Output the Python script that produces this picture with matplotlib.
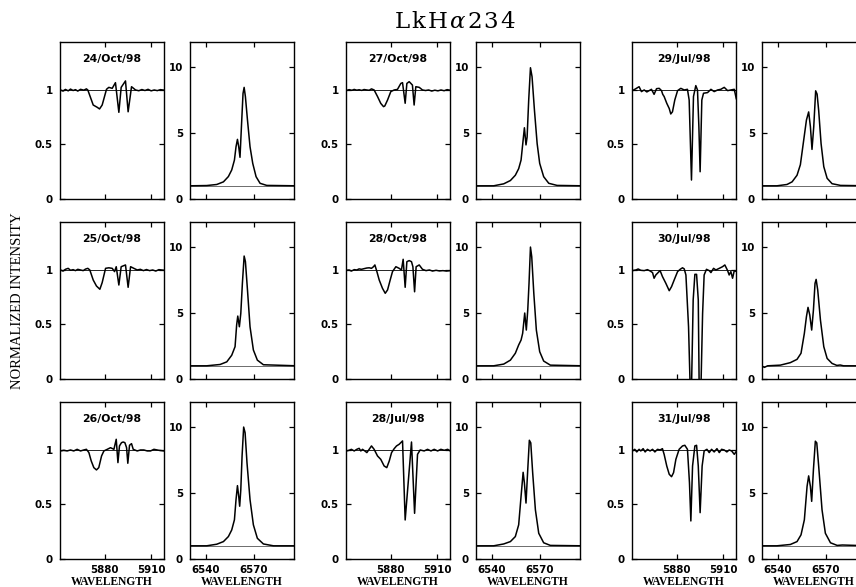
from __future__ import annotations

import matplotlib

matplotlib.use("Agg")
import matplotlib.pyplot as plt


FIG_W, FIG_H = 856, 587

# Na I D region (wavelength, normalized intensity) per night
NAD_24OCT_WAVE = [5851.3, 5853.0, 5854.5, 5856.3, 5857.8, 5859.5, 5861.0, 5862.5, 5864.3, 5866.4,
                  5868.1, 5869.0, 5872.5, 5875.1, 5876.6, 5878.3, 5881.1, 5882.6, 5884.8, 5886.9,
                  5889.1, 5890.6, 5893.4, 5895.1, 5897.3, 5899.9, 5902.0, 5904.0, 5906.0, 5908.0,
                  5910.0, 5912.0, 5914.0, 5916.0, 5918.5]
NAD_24OCT_FLUX = [1.0, 0.99, 1.005, 0.992, 1.008, 0.995, 1.003, 0.99, 1.006, 0.998,
                  1.01, 1.0, 0.862, 0.841, 0.826, 0.862, 1.006, 1.024, 1.015, 1.067,
                  0.795, 1.024, 1.083, 0.80, 1.03, 1.0, 0.993, 1.004, 0.995, 1.006,
                  0.992, 1.0, 0.994, 1.003, 0.998]

NAD_25OCT_WAVE = [5851.3, 5853.0, 5854.5, 5856.3, 5857.8, 5859.5, 5861.0, 5862.5, 5864.3, 5866.0,
                  5867.5, 5869.0, 5870.3, 5872.5, 5874.6, 5876.8, 5878.3, 5880.5, 5882.6, 5884.8,
                  5886.3, 5887.4, 5889.1, 5890.6, 5893.4, 5895.1, 5896.7, 5898.8, 5901.0, 5903.0,
                  5905.0, 5907.0, 5909.0, 5911.0, 5913.0, 5915.0, 5918.5]
NAD_25OCT_FLUX = [1.0, 0.99, 1.006, 1.015, 0.997, 1.003, 0.994, 1.006, 1.0, 0.994,
                  1.008, 1.015, 1.0, 0.908, 0.853, 0.823, 0.884, 1.015, 1.02, 1.015,
                  0.985, 1.03, 0.862, 1.03, 1.046, 0.841, 1.03, 1.015, 1.0, 1.006,
                  0.994, 1.004, 0.994, 1.0, 0.99, 1.003, 0.997]

NAD_26OCT_WAVE = [5851.3, 5853.5, 5855.6, 5857.8, 5859.9, 5862.1, 5864.3, 5866.4, 5868.1, 5869.7,
                  5871.2, 5872.9, 5874.6, 5876.1, 5877.9, 5879.4, 5881.6, 5883.7, 5885.9, 5887.4,
                  5888.5, 5889.5, 5890.8, 5891.9, 5893.0, 5894.1, 5894.9, 5896.0, 5897.3, 5898.4,
                  5901.0, 5903.1, 5905.3, 5907.5, 5909.6, 5911.8, 5915.0, 5918.3]
NAD_26OCT_FLUX = [0.991, 0.997, 0.991, 1.0, 0.991, 1.006, 0.991, 1.0, 1.006, 0.976,
                  0.90, 0.838, 0.817, 0.838, 0.945, 0.991, 1.006, 1.021, 1.006, 1.098,
                  0.884, 1.037, 1.067, 1.073, 1.067, 1.021, 0.878, 1.043, 1.058, 1.006,
                  0.991, 1.0, 1.0, 0.991, 0.991, 1.006, 0.997, 0.991]

NAD_27OCT_WAVE = [5851.3, 5853.0, 5854.8, 5856.3, 5858.0, 5859.5, 5861.2, 5862.7, 5864.5, 5866.0,
                  5867.5, 5869.2, 5871.4, 5873.5, 5875.3, 5876.1, 5877.9, 5880.0, 5882.2, 5884.3,
                  5886.5, 5887.6, 5889.3, 5890.4, 5891.9, 5893.0, 5894.0, 5895.1, 5896.2, 5898.4,
                  5900.5, 5902.5, 5904.5, 5906.5, 5908.5, 5910.5, 5912.5, 5914.5, 5916.5, 5918.5]
NAD_27OCT_FLUX = [0.995, 1.003, 0.997, 1.005, 0.998, 1.002, 0.996, 1.004, 1.0, 0.997,
                  1.01, 1.0, 0.94, 0.877, 0.847, 0.853, 0.908, 0.985, 1.0, 1.005,
                  1.06, 1.067, 0.878, 1.06, 1.076, 1.06, 1.045, 0.862, 1.03, 1.024,
                  1.0, 0.995, 1.0, 0.99, 0.998, 0.992, 1.0, 0.993, 1.003, 0.997]

NAD_28OCT_WAVE = [5851.3, 5853.0, 5854.5, 5856.3, 5858.0, 5859.5, 5861.0, 5862.7, 5864.5, 5866.0,
                  5867.5, 5868.8, 5869.7, 5871.0, 5872.5, 5874.6, 5876.4, 5877.9, 5879.6, 5881.1,
                  5883.3, 5885.4, 5886.9, 5888.0, 5889.3, 5890.4, 5891.9, 5893.4, 5894.3, 5895.4,
                  5896.4, 5898.4, 5900.5, 5902.8, 5905.0, 5907.0, 5909.3, 5911.5, 5913.7, 5916.0,
                  5918.5]
NAD_28OCT_FLUX = [0.997, 1.0, 0.99, 1.003, 1.0, 1.01, 1.006, 1.012, 1.018, 1.02,
                  1.015, 1.03, 1.046, 0.985, 0.908, 0.832, 0.786, 0.817, 0.908, 0.985,
                  1.03, 1.015, 1.0, 1.098, 0.841, 1.076, 1.086, 1.076, 1.03, 0.80,
                  1.03, 1.046, 1.006, 0.994, 1.0, 0.99, 0.997, 0.991, 0.994, 0.99,
                  0.994]

NAD_28JUL_WAVE = [5851.3, 5853.0, 5854.5, 5856.3, 5858.0, 5859.5, 5860.6, 5861.7, 5863.2, 5864.5,
                  5866.0, 5867.5, 5869.2, 5871.4, 5873.5, 5875.7, 5877.4, 5879.0, 5880.5, 5882.2,
                  5883.7, 5885.4, 5887.6, 5889.3, 5893.4, 5895.4, 5897.3, 5899.0, 5901.6, 5903.8,
                  5906.0, 5908.1, 5910.3, 5912.4, 5914.6, 5916.8, 5918.5]
NAD_28JUL_FLUX = [0.991, 0.997, 1.006, 0.991, 1.006, 1.015, 0.991, 1.006, 0.991, 0.976,
                  1.006, 1.037, 1.006, 0.945, 0.914, 0.853, 0.838, 0.899, 0.976, 1.012,
                  1.037, 1.052, 1.083, 0.358, 1.073, 0.419, 0.96, 1.0, 0.991, 1.006,
                  0.991, 1.006, 0.991, 1.006, 0.997, 1.006, 0.991]

NAD_29JUL_WAVE = [5851.3, 5852.8, 5855.6, 5857.1, 5858.9, 5860.6, 5862.1, 5863.6, 5865.3, 5866.9,
                  5868.6, 5870.1, 5870.9, 5871.8, 5873.5, 5875.1, 5876.1, 5877.2, 5878.7, 5880.5,
                  5882.6, 5884.8, 5886.9, 5888.0, 5889.5, 5890.8, 5892.3, 5893.4, 5894.3, 5895.1,
                  5896.2, 5897.3, 5899.9, 5902.1, 5904.2, 5906.4, 5908.5, 5910.7, 5912.9, 5915.0,
                  5917.2, 5918.5]
NAD_29JUL_FLUX = [0.994, 1.006, 1.03, 0.985, 1.0, 0.982, 0.994, 1.006, 0.96, 1.012,
                  1.015, 0.994, 0.96, 0.94, 0.878, 0.83, 0.78, 0.80, 0.908, 0.994,
                  1.015, 1.0, 1.006, 0.908, 0.174, 0.94, 1.04, 1.0, 0.66, 0.25,
                  0.908, 0.97, 0.976, 1.006, 0.985, 1.0, 1.006, 1.024, 0.994, 1.0,
                  1.006, 0.92]

NAD_30JUL_WAVE = [5851.3, 5853.5, 5855.0, 5856.7, 5858.9, 5861.0, 5862.7, 5864.3, 5865.3, 5866.4,
                  5867.9, 5869.2, 5870.7, 5872.9, 5875.1, 5876.6, 5878.3, 5880.5, 5882.2, 5883.7,
                  5884.8, 5885.9, 5887.6, 5888.7, 5889.5, 5890.6, 5891.7, 5892.8, 5893.9, 5894.5,
                  5895.6, 5896.7, 5897.7, 5899.2, 5901.0, 5902.1, 5903.8, 5905.3, 5907.5, 5909.6,
                  5911.1, 5912.9, 5913.9, 5915.0, 5916.1, 5917.2, 5918.7]
NAD_30JUL_FLUX = [0.994, 1.0, 1.009, 0.997, 0.994, 1.003, 0.991, 0.976, 0.924, 0.954,
                  0.976, 0.994, 0.94, 0.878, 0.81, 0.847, 0.908, 0.985, 1.006, 1.02,
                  1.01, 0.954, 0.48, -0.1, -0.1, 0.725, 0.96, 0.96, 0.725, -0.1,
                  -0.1, 0.60, 0.954, 1.006, 0.994, 0.976, 1.015, 1.0, 1.015, 1.03,
                  1.046, 0.994, 0.954, 0.985, 0.924, 0.994, 0.985]

NAD_31JUL_WAVE = [5851.3, 5852.8, 5854.1, 5855.6, 5856.7, 5858.2, 5859.5, 5861.0, 5862.7, 5864.3,
                  5865.8, 5867.5, 5869.2, 5870.7, 5871.8, 5873.5, 5875.1, 5876.6, 5877.9, 5879.4,
                  5881.5, 5883.7, 5885.2, 5886.9, 5888.2, 5889.1, 5890.2, 5891.7, 5892.8, 5893.9,
                  5895.1, 5896.4, 5897.7, 5899.5, 5901.0, 5902.5, 5904.2, 5906.0, 5907.5, 5909.0,
                  5910.7, 5912.4, 5913.9, 5915.5, 5917.2, 5918.7]
NAD_31JUL_FLUX = [0.991, 1.006, 0.982, 1.006, 0.991, 1.012, 0.982, 1.006, 0.991, 1.006,
                  0.982, 1.006, 1.0, 1.012, 0.96, 0.853, 0.777, 0.755, 0.792, 0.914,
                  1.006, 1.037, 1.043, 1.006, 0.70, 0.349, 0.853, 1.037, 1.043, 0.853,
                  0.425, 0.853, 0.991, 1.006, 0.976, 1.006, 0.982, 1.012, 0.976, 1.006,
                  1.0, 0.982, 1.0, 0.991, 0.96, 0.991]

# H-alpha region (wavelength, normalized intensity) per night
HA_24OCT_WAVE = [6530, 6540.5, 6546.8, 6551.0, 6554.1, 6556.2, 6557.9, 6558.9, 6559.8, 6560.6,
                 6561.4, 6562.3, 6563.3, 6564.0, 6564.8, 6566.1, 6567.7, 6569.4, 6571.5, 6574.0,
                 6578.2, 6597]
HA_24OCT_FLUX = [1.0, 1.02, 1.1, 1.3, 1.7, 2.2, 2.95, 3.96, 4.52, 3.96,
                 3.16, 5.48, 8.0, 8.46, 7.75, 5.98, 3.96, 2.7, 1.69, 1.19,
                 1.03, 1.0]

HA_25OCT_WAVE = [6530, 6540.5, 6548.9, 6553.1, 6556.2, 6558.3, 6559.3, 6560.0, 6561.0, 6561.9,
                 6562.9, 6564.0, 6564.8, 6566.1, 6567.7, 6569.8, 6572.3, 6576.1, 6597]
HA_25OCT_FLUX = [1.0, 1.0, 1.1, 1.3, 1.8, 2.45, 4.1, 4.77, 3.96, 4.97,
                 7.25, 9.32, 8.9, 6.74, 3.96, 2.2, 1.43, 1.08, 1.0]

HA_26OCT_WAVE = [6530, 6540.5, 6546.8, 6551.0, 6554.1, 6556.2, 6557.9, 6558.9, 6559.8, 6560.6,
                 6561.2, 6561.9, 6562.7, 6563.7, 6564.6, 6565.8, 6567.7, 6569.8, 6572.3, 6576.1,
                 6582.4, 6597]
HA_26OCT_FLUX = [1.0, 1.0, 1.12, 1.32, 1.7, 2.2, 2.97, 4.5, 5.56, 4.75,
                 4.0, 5.25, 7.8, 10.0, 9.57, 7.28, 4.5, 2.59, 1.57, 1.14,
                 1.0, 1.0]

HA_27OCT_WAVE = [6530, 6541.1, 6547.4, 6551.6, 6554.7, 6556.8, 6558.3, 6559.6, 6560.4, 6561.4,
                 6562.1, 6563.1, 6564.2, 6565.2, 6566.7, 6568.4, 6570.0, 6572.5, 6575.7, 6580.9,
                 6597]
HA_27OCT_FLUX = [1.0, 1.0, 1.15, 1.4, 1.8, 2.3, 2.95, 4.47, 5.4, 4.1,
                 4.7, 7.5, 9.95, 9.27, 6.74, 4.2, 2.7, 1.69, 1.19, 1.03,
                 1.0]

HA_28OCT_WAVE = [6530, 6541.1, 6547.4, 6551.6, 6554.7, 6556.8, 6558.3, 6559.3, 6560.6, 6561.6,
                 6562.5, 6563.3, 6564.2, 6565.0, 6566.3, 6567.9, 6570.0, 6572.5, 6576.7, 6597]
HA_28OCT_FLUX = [1.0, 1.0, 1.13, 1.43, 1.95, 2.58, 2.95, 3.46, 5.0, 3.71,
                 5.23, 7.25, 10.0, 9.27, 6.5, 3.71, 2.07, 1.36, 1.05, 1.0]

HA_28JUL_WAVE = [6530, 6541.1, 6547.4, 6551.6, 6554.7, 6556.8, 6558.3, 6559.6, 6560.4, 6561.4,
                 6562.5, 6563.5, 6564.4, 6565.6, 6567.3, 6569.4, 6572.5, 6576.7, 6597]
HA_28JUL_FLUX = [1.0, 1.0, 1.14, 1.32, 1.7, 2.59, 4.75, 6.57, 5.76, 4.24,
                 6.78, 9.0, 8.8, 6.52, 3.73, 1.95, 1.23, 1.03, 1.0]

HA_29JUL_WAVE = [6530, 6539.4, 6545.7, 6548.9, 6552.0, 6554.1, 6556.2, 6557.9, 6559.3, 6560.4,
                 6561.4, 6562.5, 6563.7, 6564.6, 6565.6, 6567.1, 6568.8, 6570.9, 6574.0, 6579.3,
                 6597]
HA_29JUL_FLUX = [1.0, 1.0, 1.1, 1.3, 1.8, 2.6, 4.47, 5.98, 6.6, 5.48,
                 3.76, 5.48, 8.2, 7.95, 6.7, 4.2, 2.45, 1.57, 1.16, 1.03,
                 1.0]

HA_30JUL_WAVE = [6530, 6531.5, 6533.5, 6541.5, 6547.8, 6552.0, 6554.5, 6556.6, 6557.9, 6558.9,
                 6560.0, 6561.2, 6562.3, 6563.3, 6564.0, 6565.0, 6566.7, 6568.8, 6570.9, 6574.0,
                 6577.0, 6579.1, 6581.2, 6597]
HA_30JUL_FLUX = [0.98, 0.88, 1.0, 1.05, 1.24, 1.49, 1.95, 3.46, 4.72, 5.43,
                 4.85, 3.71, 5.23, 7.25, 7.55, 6.74, 4.47, 2.45, 1.56, 1.18,
                 1.03, 1.06, 1.0, 1.0]

HA_31JUL_WAVE = [6530, 6539.4, 6547.8, 6552.0, 6554.5, 6556.6, 6558.3, 6559.3, 6560.4, 6561.2,
                 6562.3, 6563.5, 6564.4, 6565.6, 6567.7, 6569.8, 6573.0, 6577.2, 6580.5, 6597]
HA_31JUL_FLUX = [1.0, 1.0, 1.1, 1.32, 1.83, 2.97, 5.5, 6.3, 5.5, 4.37,
                 6.78, 8.93, 8.8, 7.03, 3.73, 1.95, 1.23, 1.03, 1.06, 1.0]

# grid order: columns left to right, rows top to bottom
DATES = [
    ["24/Oct/98", "25/Oct/98", "26/Oct/98"],
    ["27/Oct/98", "28/Oct/98", "28/Jul/98"],
    ["29/Jul/98", "30/Jul/98", "31/Jul/98"],
]
NAD_SPECTRA = [
    [(NAD_24OCT_WAVE, NAD_24OCT_FLUX), (NAD_25OCT_WAVE, NAD_25OCT_FLUX), (NAD_26OCT_WAVE, NAD_26OCT_FLUX)],
    [(NAD_27OCT_WAVE, NAD_27OCT_FLUX), (NAD_28OCT_WAVE, NAD_28OCT_FLUX), (NAD_28JUL_WAVE, NAD_28JUL_FLUX)],
    [(NAD_29JUL_WAVE, NAD_29JUL_FLUX), (NAD_30JUL_WAVE, NAD_30JUL_FLUX), (NAD_31JUL_WAVE, NAD_31JUL_FLUX)],
]
HA_SPECTRA = [
    [(HA_24OCT_WAVE, HA_24OCT_FLUX), (HA_25OCT_WAVE, HA_25OCT_FLUX), (HA_26OCT_WAVE, HA_26OCT_FLUX)],
    [(HA_27OCT_WAVE, HA_27OCT_FLUX), (HA_28OCT_WAVE, HA_28OCT_FLUX), (HA_28JUL_WAVE, HA_28JUL_FLUX)],
    [(HA_29JUL_WAVE, HA_29JUL_FLUX), (HA_30JUL_WAVE, HA_30JUL_FLUX), (HA_31JUL_WAVE, HA_31JUL_FLUX)],
]

NAD_XTICKS = [5880, 5910]
NAD_YTICKS = [0, 0.5, 1]
NAD_YTICKLABELS = ["0", "0.5", "1"]
HA_XTICKS = [6540, 6570]
HA_YTICKS = [0, 5, 10]
HA_YTICKLABELS = ["0", "5", "10"]

# layout in pixels
NAD_LEFT = [60, 346, 632]
HA_LEFT = [190, 476, 762]
ROW_TOP = [42, 222, 402]
PANEL_W = 103.5
PANEL_H = 157

TICK_FONT = {"family": "DejaVu Sans", "weight": "bold", "size": 7.4}


def add_panel(fig, left_px, top_px):
    rect = [left_px / FIG_W, 1 - (top_px + PANEL_H) / FIG_H, PANEL_W / FIG_W, PANEL_H / FIG_H]
    ax = fig.add_axes(rect)
    for sp in ax.spines.values():
        sp.set_linewidth(1.0)
    ax.tick_params(direction="in", top=True, right=True, length=3.6, width=0.9, pad=5.0)
    ax.tick_params(axis="x", pad=4.5)
    return ax


def style_ticks(ax, xticks, yticks, yticklabels, show_x):
    ax.set_xticks(xticks)
    ax.set_yticks(yticks)
    ax.set_yticklabels(yticklabels, fontdict=TICK_FONT)
    if show_x:
        ax.set_xticklabels([str(t) for t in xticks], fontdict=TICK_FONT)
    else:
        ax.set_xticklabels([])


def main() -> None:
    plt.rcParams["mathtext.fontset"] = "dejavuserif"
    fig = plt.figure(figsize=(FIG_W / 100, FIG_H / 100), dpi=100)

    for col in range(3):
        for row in range(3):
            bottom_row = row == 2

            ax = add_panel(fig, NAD_LEFT[col], ROW_TOP[row])
            wave, flux = NAD_SPECTRA[col][row]
            ax.axhline(1.0, color="black", lw=0.6)
            ax.plot(wave, flux, color="black", lw=1.1)
            ax.set_xlim(5851, 5918)
            ax.set_ylim(0, 1.44)
            style_ticks(ax, NAD_XTICKS, NAD_YTICKS, NAD_YTICKLABELS, bottom_row)
            ax.text(0.5, 0.892, DATES[col][row], transform=ax.transAxes, ha="center",
                    va="center", fontsize=7.8, fontweight="bold", family="DejaVu Sans")

            ax = add_panel(fig, HA_LEFT[col], ROW_TOP[row])
            wave, flux = HA_SPECTRA[col][row]
            ax.axhline(1.0, color="#555555", lw=0.6)
            ax.plot(wave, flux, color="black", lw=1.1)
            ax.set_xlim(6530, 6595)
            ax.set_ylim(0, 11.9)
            style_ticks(ax, HA_XTICKS, HA_YTICKS, HA_YTICKLABELS, bottom_row)

            if bottom_row:
                for left in (NAD_LEFT[col], HA_LEFT[col]):
                    fig.text((left + PANEL_W / 2) / FIG_W, 1 - 582 / FIG_H, "WAVELENGTH",
                             ha="center", va="center", fontsize=8.3, fontweight="bold",
                             family="Liberation Serif")

    fig.text(18 / FIG_W, 1 - 301 / FIG_H, "NORMALIZED INTENSITY", rotation=90,
             ha="center", va="center", fontsize=10.5, family="Liberation Serif")
    gap = r"\hspace{0.1}"
    title = gap.join([r"\mathrm{L}", r"\mathrm{k}", r"\mathrm{H}", r"\alpha",
                      r"\mathrm{2}", r"\mathrm{3}", r"\mathrm{4}"])
    fig.text(455 / FIG_W, 1 - 27.7 / FIG_H, "$" + title + "$",
             ha="center", va="baseline", fontsize=16.5)

    fig.savefig("out.png", dpi=100)
    plt.close(fig)


if __name__ == "__main__":
    main()
